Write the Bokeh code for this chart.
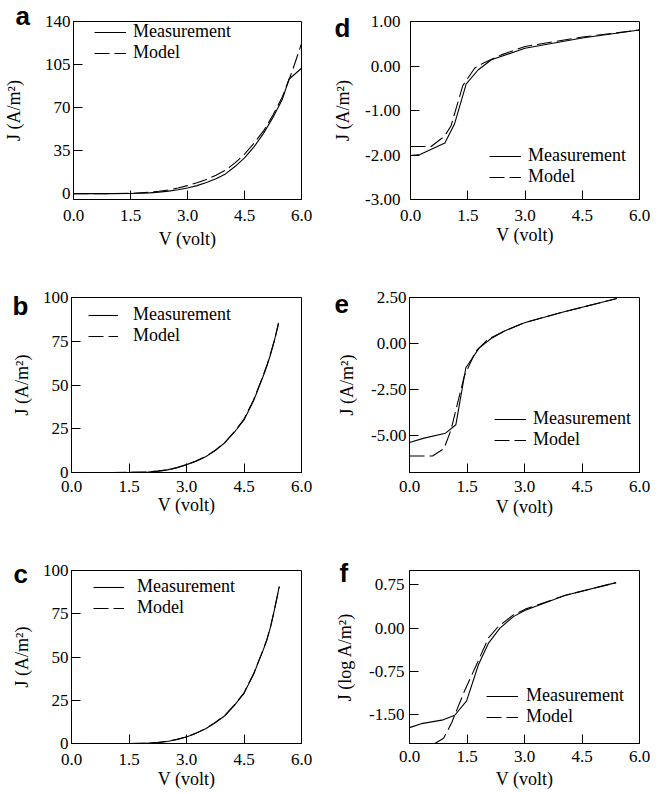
from bokeh.plotting import figure
from bokeh.layouts import column, row
from bokeh.models import (Legend, LegendItem, Title, FixedTicker,
                          PrintfTickFormatter, Range1d)
from bokeh.embed import file_html
from bokeh.resources import INLINE

# ---------------- data ----------------
# panel a
va_meas = [0, 0.5, 1.0, 1.5, 2.0, 2.25, 2.5, 2.75, 3.0, 3.25, 3.5, 3.75, 4.0,
           4.25, 4.5, 4.75, 5.0, 5.25, 5.5, 5.67, 6.0]
ja_meas = [0, 0, 0, 0.1, 0.6, 1.2, 2.0, 3.1, 4.5, 6.5, 9.0, 12.0, 16.0,
           22.0, 29.0, 38.0, 49.0, 62.0, 77.0, 93.0, 102.0]
va_mod = [0, 0.5, 1.0, 1.5, 2.0, 2.25, 2.5, 2.75, 3.0, 3.25, 3.5, 3.75, 4.0,
          4.25, 4.5, 4.75, 5.0, 5.25, 5.5, 5.75, 6.0]
ja_mod = [0, 0, 0, 0.2, 1.0, 1.9, 3.0, 4.6, 6.5, 8.8, 11.5, 15.0, 19.0,
          25.0, 32.0, 41.0, 51.0, 64.0, 79.0, 99.0, 122.0]

# panel b
vb = [0, 0.5, 1.0, 1.5, 2.0, 2.25, 2.5, 2.75, 3.0, 3.25, 3.5, 3.75, 4.0,
      4.25, 4.5, 4.75, 5.0, 5.1, 5.2, 5.3, 5.4]
jb_meas = [0, 0, 0, 0.05, 0.3, 0.8, 1.5, 2.8, 4.5, 6.5, 9.0, 12.5, 17.0,
           23.0, 30.0, 41.0, 55.0, 61.0, 68.0, 76.0, 85.5]
jb_mod = [0, 0, 0, 0.05, 0.3, 0.8, 1.4, 2.7, 4.4, 6.6, 9.2, 12.7, 17.2,
          23.3, 30.5, 41.5, 55.5, 61.5, 68.5, 76.0, 85.0]

# panel c
vc = [0, 0.5, 1.0, 1.5, 2.0, 2.25, 2.5, 2.75, 3.0, 3.25, 3.5, 3.75, 4.0,
      4.25, 4.5, 4.75, 5.0, 5.1, 5.2, 5.3, 5.42]
jc_meas = [0, 0, 0, 0, 0.2, 0.6, 1.2, 2.3, 3.8, 5.9, 8.5, 12.0, 16.0,
           22.0, 29.0, 40.0, 54.0, 60.0, 68.0, 78.0, 90.8]
jc_mod = [0, 0, 0, 0, 0.2, 0.6, 1.3, 2.4, 3.9, 6.0, 8.7, 12.2, 16.3,
          22.3, 29.3, 40.3, 54.3, 60.3, 68.3, 78.0, 90.5]

# panel d
vd_meas = [0, 0.25, 0.9, 1.15, 1.46, 1.77, 2.12, 3.0, 4.5, 6.0]
jd_meas = [-2.01, -1.99, -1.73, -1.31, -0.40, -0.09, 0.14, 0.40, 0.63, 0.81]
vd_mod = [0, 0.54, 0.89, 1.06, 1.37, 1.68, 1.9, 2.38, 3.0, 4.5, 6.0]
jd_mod = [-1.81, -1.81, -1.58, -1.35, -0.44, -0.05, 0.06, 0.25, 0.44, 0.65, 0.81]

# panel e
ve_meas = [0, 0.38, 0.94, 1.21, 1.47, 1.82, 2.13, 2.48, 3.0, 3.96, 5.41]
je_meas = [-5.37, -5.13, -4.86, -4.4, -1.3, -0.22, 0.29, 0.7, 1.15, 1.7, 2.47]
ve_mod = [0, 0.6, 0.9, 1.08, 1.43, 1.73, 2.04, 2.48, 3.0, 3.96, 5.41]
je_mod = [-6.1, -6.1, -5.7, -4.7, -1.75, -0.4, 0.24, 0.7, 1.15, 1.7, 2.47]

# panel f
vf_meas = [0, 0.31, 0.88, 1.18, 1.49, 1.8, 2.06, 2.36, 2.71, 3.02, 4.07, 5.39]
jf_meas = [-1.725, -1.656, -1.59, -1.51, -1.26, -0.63, -0.26, 0.0, 0.2, 0.31, 0.57, 0.79]
vf_mod = [0.66, 0.89, 1.1, 1.44, 1.75, 2.06, 2.32, 2.71, 3.02, 4.07, 5.39]
jf_mod = [-2.0, -1.91, -1.64, -1.08, -0.63, -0.17, 0.03, 0.23, 0.33, 0.57, 0.79]

x_ticks = [0, 1.5, 3.0, 4.5, 6.0]
ya_ticks = [0, 35, 70, 105, 140]
ybc_ticks = [0, 25, 50, 75, 100]
yd_ticks = [-3, -2, -1, 0, 1]
ye_ticks = [-5, -2.5, 0, 2.5]
yf_ticks = [-1.5, -0.75, 0, 0.75]

series_names = ["Measurement", "Model"]

SERIF = "Liberation Serif"
SANS = "Liberation Sans"


def panel(letter, vm, jm, vmod, jmod, yr, yticks, yfmt, ylabel,
          width, height, left, right, top, bottom,
          ylab_standoff, ytick_standoff, xtick_standoff, xlab_standoff,
          leg_x, leg_y, leg_gw, leg_standoff, leg_spacing,
          let_offset, let_standoff):
    p = figure(width=width, height=height, output_backend="svg",
               toolbar_location=None, tools="", title=None,
               x_range=Range1d(0, 6), y_range=Range1d(*yr),
               min_border_left=left, min_border_right=right,
               min_border_top=top, min_border_bottom=bottom)
    p.grid.visible = False
    p.outline_line_color = "black"
    p.outline_line_width = 1
    p.outline_line_alpha = 1
    for ax in (p.xaxis[0], p.yaxis[0]):
        ax.axis_line_color = "black"
        ax.major_tick_line_color = "black"
        ax.major_tick_in = 9
        ax.major_tick_out = 0
        ax.minor_tick_line_color = None
        ax.major_label_text_font = SERIF
        ax.major_label_text_font_size = "17px"
        ax.major_label_text_color = "black"
        ax.axis_label_text_font = SERIF
        ax.axis_label_text_font_size = "18px"
        ax.axis_label_text_font_style = "normal"
        ax.axis_label_text_color = "black"
    p.xaxis.ticker = FixedTicker(ticks=x_ticks)
    p.xaxis.formatter = PrintfTickFormatter(format="%.1f")
    p.xaxis.axis_label = "V (volt)"
    p.xaxis.major_label_standoff = xtick_standoff
    p.xaxis.axis_label_standoff = xlab_standoff
    p.yaxis.ticker = FixedTicker(ticks=yticks)
    p.yaxis.formatter = PrintfTickFormatter(format=yfmt)
    p.yaxis.axis_label = ylabel
    p.yaxis.major_label_standoff = ytick_standoff
    p.yaxis.axis_label_standoff = ylab_standoff

    r1 = p.line(vm, jm, line_color="black", line_width=1.1)
    r2 = p.line(vmod, jmod, line_color="black", line_width=1.1,
                line_dash="15 5")
    leg = Legend(items=[LegendItem(label=series_names[0], renderers=[r1]),
                        LegendItem(label=series_names[1], renderers=[r2])],
                 location=(leg_x, leg_y), glyph_width=leg_gw,
                 glyph_height=10, label_height=10,
                 label_standoff=leg_standoff, spacing=leg_spacing,
                 padding=0, margin=0, border_line_alpha=0,
                 background_fill_alpha=0,
                 label_text_font=SERIF, label_text_font_size="18px",
                 label_text_color="black")
    p.add_layout(leg)
    p.add_layout(Title(text=letter, align="left", offset=let_offset,
                       standoff=let_standoff, vertical_align="bottom",
                       text_font=SANS, text_font_style="bold",
                       text_font_size="26px", text_color="black"), "above")
    return p


# column geometry: left frames at x=71, right frames at x=409 (width 230)
# row geometry: frames 21-199, 297-472, 570-743
pa = panel("a", va_meas, ja_meas, va_mod, ja_mod, (-4.8, 140), ya_ticks, "%d",
           "J (A/m²)", 330, 261, 71, 29, 21, 62,
           18, 3, 10, 5,
           21, 136, 32, 7, -3,
           -58, -19)
pd_ = panel("\nd", vd_meas, jd_meas, vd_mod, jd_mod, (-3, 1), yd_ticks, "%.2f",
            "J (A/m²)", 330, 261, 79, 21, 21, 62,
            9, 10, 10, 1,
            79, 12, 32, 7, -3,
            -76, -43)
pb = panel("\nb", vb, jb_meas, vb, jb_mod, (0, 100), ybc_ticks, "%d",
           "J (A/m²)", 330, 266, 71, 29, 36, 55,
           8, 3, 8, 0,
           17, 126, 30, 15, -1,
           -59, -47)
pe = panel("\ne", ve_meas, je_meas, ve_mod, je_mod, (-7, 2.52), ye_ticks, "%.2f",
           "J (A/m²)", 330, 266, 79, 21, 36, 55,
           11, 3, 8, 2,
           85, 22, 32, 7, -3,
           -75, -43)
pc = panel("\nc", vc, jc_meas, vc, jc_mod, (0, 100), ybc_ticks, "%d",
           "J (A/m²)", 330, 266, 71, 29, 43, 50,
           8, 3, 10, 1,
           22, 125, 31, 13, -3,
           -58, -37)
pf = panel("\nf", vf_meas, jf_meas, vf_mod, jf_mod, (-2, 1), yf_ticks, "%.2f",
           "J (log A/m²)", 330, 266, 79, 21, 43, 50,
           11, 5, 7, 4,
           77, 16, 32, 8, -1,
           -70, -35)

layout = column(row(pa, pd_), row(pb, pe), row(pc, pf))

open("out.html", "w").write(file_html(layout, INLINE))
